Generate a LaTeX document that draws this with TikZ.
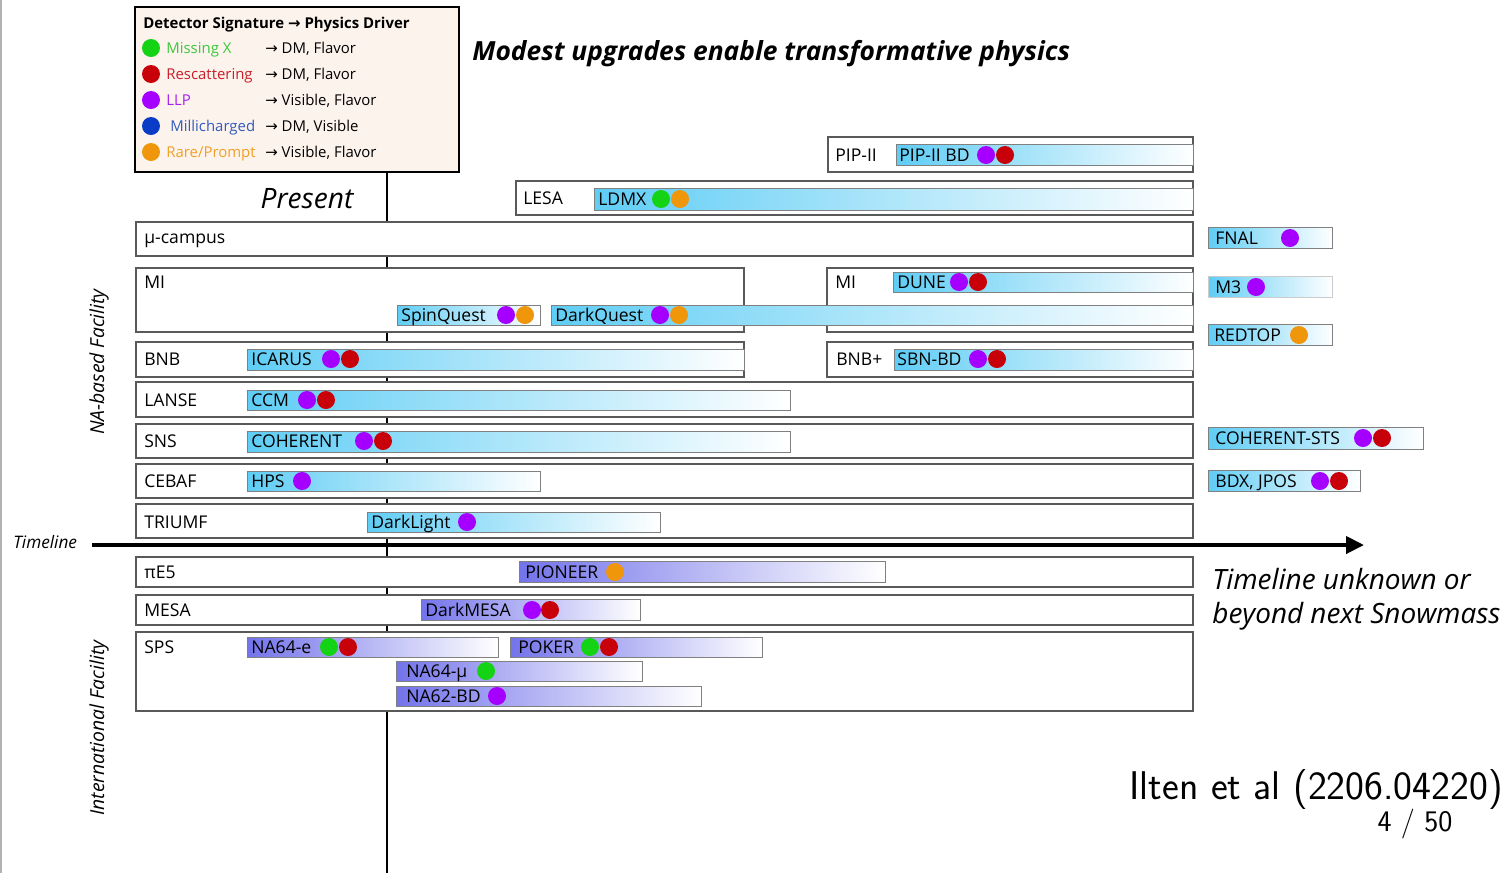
\documentclass[tikz,border=0pt]{standalone}
\usepackage{fontspec}
\setmainfont{Open Sans}
\newfontfamily\arrowfont{DejaVu Sans}
\usetikzlibrary{arrows.meta}

\definecolor{missx}{RGB}{20,210,20}
\definecolor{resc}{RGB}{200,0,10}
\definecolor{llp}{RGB}{165,0,255}
\definecolor{milli}{RGB}{10,60,200}
\definecolor{rare}{RGB}{240,150,10}
\definecolor{missxt}{RGB}{60,200,60}
\definecolor{resct}{RGB}{200,30,40}
\definecolor{llpt}{RGB}{170,30,240}
\definecolor{millit}{RGB}{50,90,190}
\definecolor{raret}{RGB}{240,160,40}
\definecolor{skyb}{RGB}{95,205,245}
\definecolor{violb}{RGB}{115,115,235}
\definecolor{legbg}{RGB}{253,243,237}

\begin{document}
\begin{tikzpicture}[x=0.02cm, y=-0.02cm,
    fac/.style={draw=black!65, line width=0.7pt, fill=white},
    cbar/.style={draw=black!50, line width=0.5pt, left color=skyb, right color=white},
    vbar/.style={draw=black!50, line width=0.5pt, left color=violb, right color=white},
    lbl/.style={anchor=west, inner sep=0pt, text height=7.2pt, text depth=0pt, font=\fontsize{10}{12}\selectfont},
    leg/.style={anchor=west, inner sep=0pt, text height=6.1pt, text depth=0pt, font=\fontsize{8.5}{10}\selectfont},
    dot/.style={circle, inner sep=0pt, minimum size=0.36cm}]
    \fill[white] (0,0) rectangle (1510,873);
    \useasboundingbox (0,0) rectangle (1510,873);
    \draw[black!30, line width=1pt] (1,0) -- (1,873);

    % Present line
    \coordinate (now-top) at (387,172);
    \coordinate (now-bot) at (387,873);
    \draw[line width=1.2pt] (now-top) -- (now-bot);

    % Legend
    \draw[line width=1.1pt, fill=legbg] (135,7) rectangle (459,172);
    \node[leg, font=\fontsize{8.5}{10}\selectfont\bfseries] (legtitle) at (143,23) {Detector Signature {\arrowfont →} Physics Driver};
    \node[dot, fill=missx] (d1) at (151,48) {};
    \node[leg, text=missxt] (l1) at (166,48) {Missing X};
    \node[leg] (r1) at (265,48) {{\arrowfont →} DM, Flavor};
    \node[dot, fill=resc] (d2) at (151,74) {};
    \node[leg, text=resct] (l2) at (166,74) {Rescattering};
    \node[leg] (r2) at (265,74) {{\arrowfont →} DM, Flavor};
    \node[dot, fill=llp] (d3) at (151,100) {};
    \node[leg, text=llpt] (l3) at (166,100) {LLP};
    \node[leg] (r3) at (265,100) {{\arrowfont →} Visible, Flavor};
    \node[dot, fill=milli] (d4) at (151,126) {};
    \node[leg, text=millit] (l4) at (170,126) {Millicharged};
    \node[leg] (r4) at (265,126) {{\arrowfont →} DM, Visible};
    \node[dot, fill=rare] (d5) at (151,152) {};
    \node[leg, text=raret] (l5) at (166,152) {Rare/Prompt};
    \node[leg] (r5) at (265,152) {{\arrowfont →} Visible, Flavor};

    % Titles
    \node[anchor=west, inner sep=0pt, font=\fontsize{15}{18}\selectfont\bfseries\itshape] (title) at (472,54) {Modest upgrades enable transformative physics};
    \node[font=\fontsize{16}{19}\selectfont\itshape] (present) at (307,199) {Present};

    % PIP-II
    \draw[fac] (828,137) rectangle (1193,172);
    \node[lbl] (pip) at (835,155) {PIP-II};
    \draw[cbar] (896,144) rectangle (1193,165);
    \node[lbl] (pipbd) at (899,155) {PIP-II BD};
    \node[dot, fill=llp] (pipbd1) at (986,155) {};
    \node[dot, fill=resc] (pipbd2) at (1005,155) {};

    % LESA
    \draw[fac] (516,181) rectangle (1193,215);
    \node[lbl] (lesa) at (523,198) {LESA};
    \draw[cbar] (594,188) rectangle (1193,210);
    \node[lbl] (ldmx) at (598,199) {LDMX};
    \node[dot, fill=missx] (ldmx1) at (661,199) {};
    \node[dot, fill=rare] (ldmx2) at (680,199) {};

    % mu-campus
    \draw[fac] (136,222) rectangle (1193,256);
    \node[lbl] (mucamp) at (144,237) {µ-campus};

    % MI
    \draw[fac] (136,268) rectangle (744,332);
    \node[lbl] (mi) at (144,282) {MI};
    \draw[fac] (827,268) rectangle (1193,332);
    \node[lbl] (mib) at (835,282) {MI};
    \draw[cbar] (893,272) rectangle (1193,292);
    \node[lbl] (dune) at (897,282) {DUNE};
    \node[dot, fill=llp] (dune1) at (959,282) {};
    \node[dot, fill=resc] (dune2) at (978,282) {};
    \draw[cbar] (397,305) rectangle (540,325);
    \node[lbl] (spinq) at (401,315) {SpinQuest};
    \node[dot, fill=llp] (spinq1) at (506,315) {};
    \node[dot, fill=rare] (spinq2) at (525,315) {};
    \draw[cbar] (551,305) rectangle (1193,325);
    \node[lbl] (darkq) at (555,315) {DarkQuest};
    \node[dot, fill=llp] (darkq1) at (660,315) {};
    \node[dot, fill=rare] (darkq2) at (679,315) {};

    % BNB
    \draw[fac] (136,342) rectangle (744,377);
    \node[lbl] (bnb) at (144,359) {BNB};
    \draw[cbar] (247,349) rectangle (744,370);
    \node[lbl] (icarus) at (251,359) {ICARUS};
    \node[dot, fill=llp] (icarus1) at (331,359) {};
    \node[dot, fill=resc] (icarus2) at (350,359) {};
    \draw[fac] (827,342) rectangle (1193,377);
    \node[lbl] (bnbp) at (836,359) {BNB+};
    \draw[cbar] (894,349) rectangle (1193,370);
    \node[lbl] (sbnbd) at (897,359) {SBN-BD};
    \node[dot, fill=llp] (sbnbd1) at (978,359) {};
    \node[dot, fill=resc] (sbnbd2) at (997,359) {};

    % LANSE
    \draw[fac] (136,382) rectangle (1193,417);
    \node[lbl] (lanse) at (144,400) {LANSE};
    \draw[cbar] (247,390) rectangle (790,410);
    \node[lbl] (ccm) at (251,400) {CCM};
    \node[dot, fill=llp] (ccm1) at (307,400) {};
    \node[dot, fill=resc] (ccm2) at (326,400) {};

    % SNS
    \draw[fac] (136,424) rectangle (1193,458);
    \node[lbl] (sns) at (144,441) {SNS};
    \draw[cbar] (247,431) rectangle (790,452);
    \node[lbl] (coh) at (251,441) {COHERENT};
    \node[dot, fill=llp] (coh1) at (364,441) {};
    \node[dot, fill=resc] (coh2) at (383,441) {};

    % CEBAF
    \draw[fac] (136,464) rectangle (1193,498);
    \node[lbl] (cebaf) at (144,481) {CEBAF};
    \draw[cbar] (247,471) rectangle (540,491);
    \node[lbl] (hps) at (251,481) {HPS};
    \node[dot, fill=llp] (hps1) at (302,481) {};

    % TRIUMF
    \draw[fac] (136,504) rectangle (1193,538);
    \node[lbl] (triumf) at (144,522) {TRIUMF};
    \draw[cbar] (367,512) rectangle (660,532);
    \node[lbl] (dlight) at (371,522) {DarkLight};
    \node[dot, fill=llp] (dlight1) at (467,522) {};

    % Timeline
    \coordinate (tl-start) at (92,545);
    \coordinate (tl-end) at (1364,545);
    \draw[line width=2.3pt, -{Triangle[length=0.36cm, width=0.34cm]}] (tl-start) -- (tl-end);
    \node[anchor=west, inner sep=0pt, font=\fontsize{9.8}{11}\selectfont\itshape] (tl) at (13,542) {Timeline};

    % piE5
    \draw[fac] (136,557) rectangle (1193,587);
    \node[lbl] (pie5) at (144,572) {πE5};
    \draw[vbar] (519,561) rectangle (885,582);
    \node[lbl] (pioneer) at (525,572) {PIONEER};
    \node[dot, fill=rare] (pioneer1) at (615,572) {};

    % MESA
    \draw[fac] (136,595) rectangle (1193,625);
    \node[lbl] (mesa) at (144,610) {MESA};
    \draw[vbar] (421,599) rectangle (640,620);
    \node[lbl] (dmesa) at (425,610) {DarkMESA};
    \node[dot, fill=llp] (dmesa1) at (532,610) {};
    \node[dot, fill=resc] (dmesa2) at (550,610) {};

    % SPS
    \draw[fac] (136,632) rectangle (1193,711);
    \node[lbl] (sps) at (144,647) {SPS};
    \draw[vbar] (247,637) rectangle (498,657);
    \node[lbl] (na64e) at (251,647) {NA64-e};
    \node[dot, fill=missx] (na64e1) at (329,647) {};
    \node[dot, fill=resc] (na64e2) at (348,647) {};
    \draw[vbar] (510,637) rectangle (762,657);
    \node[lbl] (poker) at (518,647) {POKER};
    \node[dot, fill=missx] (poker1) at (590,647) {};
    \node[dot, fill=resc] (poker2) at (609,647) {};
    \draw[vbar] (396,661) rectangle (642,681);
    \node[lbl] (na64mu) at (406,671) {NA64-µ};
    \node[dot, fill=missx] (na64mu1) at (486,671) {};
    \draw[vbar] (396,686) rectangle (701,706);
    \node[lbl] (na62) at (406,696) {NA62-BD};
    \node[dot, fill=llp] (na621) at (497,696) {};

    % Beyond the timeline
    \draw[cbar] (1208,227) rectangle (1332,248);
    \node[lbl] (fnal) at (1215,238) {FNAL};
    \node[dot, fill=llp] (fnal1) at (1290,238) {};
    \draw[cbar, draw=black!20] (1208,276) rectangle (1332,297);
    \node[lbl] (m3) at (1215,287) {M3};
    \node[dot, fill=llp] (m31) at (1256,287) {};
    \draw[cbar] (1208,324) rectangle (1332,345);
    \node[lbl] (redtop) at (1214,335) {REDTOP};
    \node[dot, fill=rare] (redtop1) at (1299,335) {};
    \draw[cbar] (1208,427) rectangle (1423,449);
    \node[lbl] (cohsts) at (1215,438) {COHERENT-STS};
    \node[dot, fill=llp] (cohsts1) at (1363,438) {};
    \node[dot, fill=resc] (cohsts2) at (1382,438) {};
    \draw[cbar] (1208,470) rectangle (1360,491);
    \node[lbl] (bdx) at (1215,481) {BDX, JPOS};
    \node[dot, fill=llp] (bdx1) at (1320,481) {};
    \node[dot, fill=resc] (bdx2) at (1339,481) {};
    \node[anchor=west, align=left, inner sep=0pt, font=\fontsize{15.9}{19.5}\selectfont\itshape] (unknown) at (1212,599) {Timeline unknown or\\beyond next Snowmass};

    % Side labels
    \node[rotate=90, font=\fontsize{11}{13}\selectfont\itshape] (nabased) at (99,362) {NA-based Facility};
    \node[rotate=90, font=\fontsize{11}{13}\selectfont\itshape] (intl) at (99,728) {International Facility};

    % Reference
    \node[anchor=east, inner sep=0pt, font=\sffamily\fontsize{22.8}{26}\selectfont] (cite) at (1503,789) {Ilten et al (2206.04220)};
    \node[inner sep=0pt, font=\sffamily\fontsize{17}{20}\selectfont] (page) at (1415,824) {4 / 50};
\end{tikzpicture}
\end{document}
